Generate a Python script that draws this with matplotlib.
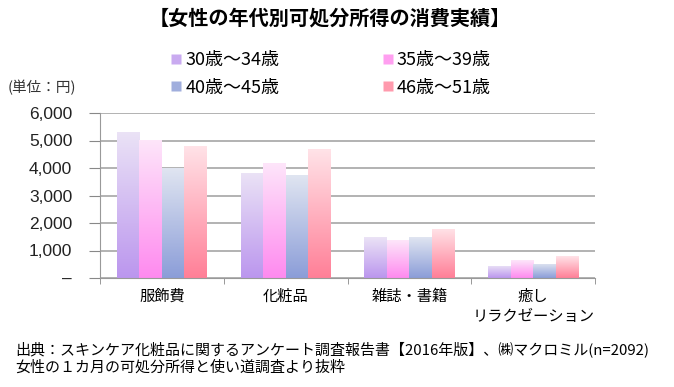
import numpy as np
import matplotlib
matplotlib.use("Agg")
from matplotlib import pyplot as plt
from matplotlib.colors import LinearSegmentedColormap
from matplotlib.lines import Line2D
from matplotlib.ticker import FuncFormatter

JP = ['Noto Sans CJK JP', 'DejaVu Sans']
plt.rcParams['font.family'] = JP

# Data (yen per month)
categories = ['服飾費', '化粧品', '雑誌・書籍', '癒し\nリラクゼーション']
series_names = ['30歳～34歳', '35歳～39歳', '40歳～45歳', '46歳～51歳']
age_30_34 = [5320, 3830, 1480, 440]
age_35_39 = [5020, 4190, 1380, 650]
age_40_45 = [3990, 3730, 1480, 510]
age_46_51 = [4810, 4680, 1790, 800]
yticks = [0, 1000, 2000, 3000, 4000, 5000, 6000]

# gradient colours: (top, bottom)
grad_colors = [
    ('#ebe3f6', '#bb96ee'),
    ('#fde6fa', '#ff8aef'),
    ('#e0e5f1', '#8b9dd8'),
    ('#ffe3e8', '#ff7f97'),
]
legend_colors = ['#c9aaf0', '#ff9ff0', '#a0aedd', '#ff9aad']

fig = plt.figure(figsize=(6.74, 3.87), dpi=100)
ax = fig.add_axes([100 / 674, 1 - 278 / 387, 495 / 674, 165 / 387])

x = np.arange(len(categories))
width = 0.182
all_series = [age_30_34, age_35_39, age_40_45, age_46_51]
grad = np.linspace(0, 1, 256).reshape(-1, 1)

for i, vals in enumerate(all_series):
    offset = (i - 1.5) * width
    bars = ax.bar(x + offset, vals, width, color='none', edgecolor='none', zorder=2)
    cmap = LinearSegmentedColormap.from_list('g%d' % i, [grad_colors[i][1], grad_colors[i][0]])
    for b in bars:
        x0, y0 = b.get_x(), b.get_y()
        im = ax.imshow(grad, cmap=cmap, origin='lower', aspect='auto',
                       extent=(x0, x0 + b.get_width(), y0, y0 + b.get_height()),
                       zorder=2)
        im.set_clip_path(b)

ax.set_xlim(-0.5, len(categories) - 0.5)
ax.set_ylim(0, 6000)
ax.set_yticks(yticks)
ax.yaxis.set_major_formatter(FuncFormatter(lambda v, p: '–' if v == 0 else f'{int(v):,}'))
ax.set_xticks(x)
ax.set_xticklabels(categories, fontsize=11, linespacing=1.25)
ax.set_xticks(np.arange(len(categories) + 1) - 0.5, minor=True)
ax.tick_params(axis='x', which='major', length=0, pad=7)
ax.tick_params(axis='x', which='minor', length=4, color='#888888', direction='out')
ax.tick_params(axis='y', length=8, color='#888888', direction='out', labelsize=12.5, pad=12)
for lab in ax.get_yticklabels():
    lab.set_family(['Liberation Sans', 'DejaVu Sans'])
    lab.set_color('#222222')

ax.grid(axis='y', color='#a6a6a6', linewidth=1.2, zorder=0)
ax.set_axisbelow(True)
for s in ['top', 'right']:
    ax.spines[s].set_visible(False)
ax.spines['left'].set_color('#999999')
ax.spines['bottom'].set_color('#999999')

# legend
handles = [Line2D([], [], marker='s', linestyle='none', markersize=7,
                  markerfacecolor=c, markeredgecolor='none') for c in legend_colors]
order = [0, 2, 1, 3]
fig.legend([handles[k] for k in order], [series_names[k] for k in order],
           ncol=2, loc='center', bbox_to_anchor=(330 / 674, 1 - 74 / 387),
           frameon=False, fontsize=13, handletextpad=0.1, handlelength=0.8,
           columnspacing=5.6, labelspacing=0.5, borderpad=0)

fig.text(330 / 674, 1 - 18 / 387, '【女性の年代別可処分所得の消費実績】',
         ha='center', va='center', fontsize=14.5, fontweight='bold')
fig.text(8 / 674, 1 - 88 / 387, '(単位：円)', ha='left', va='center', fontsize=10.5, color='#333333')
fig.text(15 / 674, 1 - 349 / 387,
         '出典：スキンケア化粧品に関するアンケート調査報告書【2016年版】、㈱マクロミル(n=2092)',
         ha='left', va='center', fontsize=10.8)
fig.text(15 / 674, 1 - 367 / 387, '女性の１カ月の可処分所得と使い道調査より抜粋',
         ha='left', va='center', fontsize=10.8)

fig.savefig('out.png', dpi=100)
